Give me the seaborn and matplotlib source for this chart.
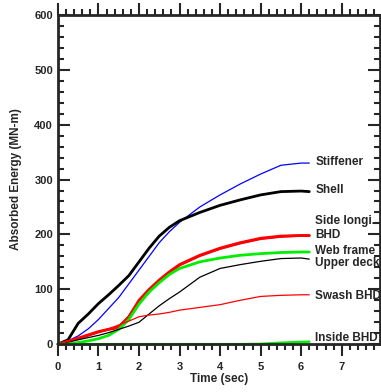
import numpy as np
import pandas as pd
import seaborn as sns
import matplotlib.pyplot as plt
from matplotlib.ticker import MultipleLocator

# time points (sec)
time = [0, 0.25, 0.5, 0.75, 1.0, 1.25, 1.5, 1.75, 2.0, 2.25, 2.5, 2.75, 3.0, 3.5, 4.0, 4.5, 5.0, 5.5, 6.0, 6.2]

stiffener = [0, 6, 15, 28, 45, 65, 85, 110, 135, 160, 185, 205, 222, 250, 272, 292, 310, 326, 330, 330]
shell = [0, 8, 38, 55, 74, 90, 107, 125, 150, 175, 197, 213, 225, 240, 253, 263, 272, 278, 279, 278]
side_longi = [0, 5, 10, 16, 22, 27, 32, 50, 78, 98, 115, 130, 144, 161, 174, 184, 192, 196, 198, 198]
bhd = [0, 5, 11, 17, 23, 27, 30, 50, 80, 100, 117, 132, 145, 162, 175, 185, 193, 197, 198, 198]
web_frame = [0, 1, 3, 6, 10, 16, 27, 45, 73, 95, 112, 127, 138, 150, 157, 162, 165, 167, 168, 168]
upper_deck = [0, 4, 8, 12, 16, 21, 27, 33, 40, 55, 70, 83, 95, 122, 138, 145, 151, 156, 157, 155]
swash_bhd = [0, 5, 11, 16, 22, 28, 35, 42, 50, 53, 55, 58, 62, 67, 72, 80, 87, 89, 90, 90]
inside_bhd = [0, 0, 0, 0, 0, 0, 0, 0, 0, 0, 0, 0, 0, 0, 0, 0, 0.5, 2.5, 4, 4.5]

names = ["Stiffener", "Shell", "Side longi.", "BHD", "Web frame", "Upper deck", "Swash BHD", "Inside BHD"]
series = [stiffener, shell, side_longi, bhd, web_frame, upper_deck, swash_bhd, inside_bhd]
colors = ["#0000ff", "#000000", "#ff0000", "#ff0000", "#00ee00", "#000000", "#ff0000", "#00ee00"]
widths = [0.9, 2.0, 1.8, 2.0, 2.0, 0.9, 0.9, 1.8]
label_y = [332, 281, 224, 199, 170, 148, 88, 12]

df = pd.concat([pd.DataFrame({"time": time, "energy": s, "part": n}) for n, s in zip(names, series)])

sns.set_style("ticks")
plt.rcParams["font.family"] = ["Liberation Sans", "DejaVu Sans"]
plt.rcParams["font.weight"] = "bold"

fig = plt.figure(figsize=(3.81, 3.92), dpi=100)
ax = fig.add_axes([0.152, 0.122, 0.846, 0.84])

for n, c, w in zip(names, colors, widths):
    sns.lineplot(data=df[df["part"] == n], x="time", y="energy", color=c, lw=w, ax=ax, clip_on=False)

for n, y in zip(names, label_y):
    ax.text(6.35, y, n, fontsize=8.5, fontweight="bold", va="center", ha="left")

ax.set_xlim(0, 7.95)
ax.set_ylim(0, 600)
ax.xaxis.set_major_locator(MultipleLocator(1))
ax.xaxis.set_minor_locator(MultipleLocator(0.2))
ax.yaxis.set_major_locator(MultipleLocator(100))
ax.yaxis.set_minor_locator(MultipleLocator(20))
ax.tick_params(which="both", direction="in", top=True, right=True, width=1.5, labelsize=8)
ax.tick_params(which="major", length=8.5)
ax.tick_params(which="minor", length=4.5)
# bottom ticks hang below the axis
ax.tick_params(axis="x", which="both", direction="out", pad=4)
ax.set_xticks([0, 1, 2, 3, 4, 5, 6, 7])
for lab in ax.get_xticklabels() + ax.get_yticklabels():
    lab.set_fontweight("bold")
for sp in ax.spines.values():
    sp.set_linewidth(2)
ax.set_xlabel("Time (sec)", fontsize=8.5, fontweight="bold", labelpad=1)
ax.set_ylabel("Absorbed Energy (MN-m)", fontsize=8.5, fontweight="bold", labelpad=9)

fig.savefig("out.png", dpi=100)
